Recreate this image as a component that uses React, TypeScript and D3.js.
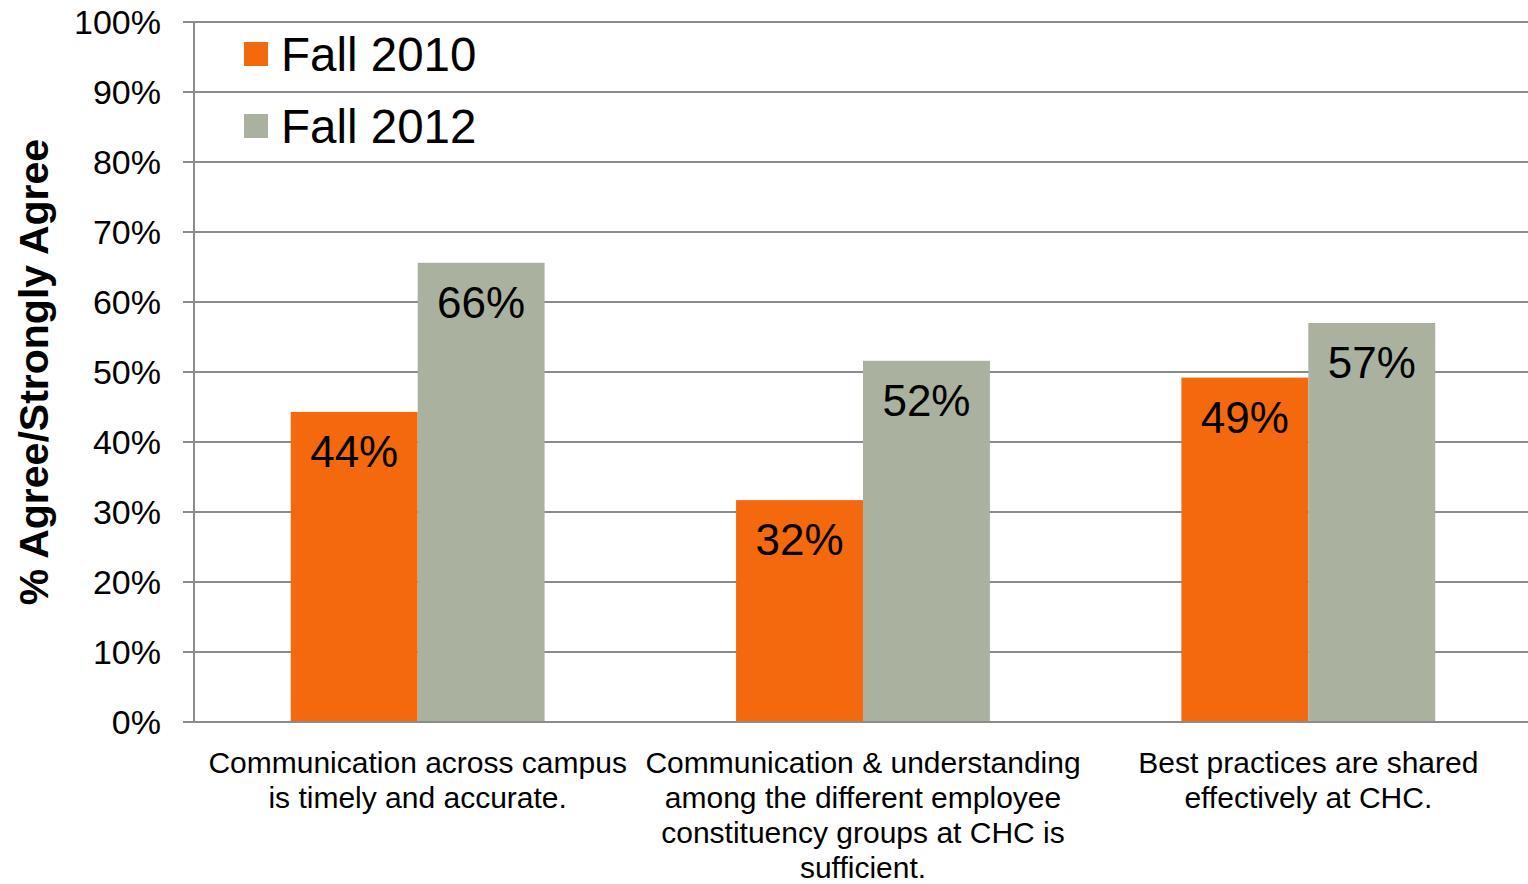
import React from "react";
import * as d3 from "d3";

const categories = [
  "Communication across campus is timely and accurate.",
  "Communication & understanding among the different employee constituency groups at CHC is sufficient.",
  "Best practices are shared effectively at CHC.",
];
const categoryLines = [
  ["Communication across campus", "is timely and accurate."],
  ["Communication & understanding", "among the different employee", "constituency groups at CHC is", "sufficient."],
  ["Best practices are shared", "effectively at CHC."],
];
const seriesNames = ["Fall 2010", "Fall 2012"];
const fall2010 = [0.443, 0.317, 0.492];
const fall2012 = [0.656, 0.516, 0.57];
const dataLabels2010 = ["44%", "32%", "49%"];
const dataLabels2012 = ["66%", "52%", "57%"];
const yTicks = [0, 0.1, 0.2, 0.3, 0.4, 0.5, 0.6, 0.7, 0.8, 0.9, 1.0];
const colors = ["#F4680E", "#AAB19F"];

const W = 1528;
const H = 884;
const left = 194;
const right = 1528;
const top = 22;
const bottom = 722;
const FONT = "'Liberation Sans', Arial, sans-serif";

export default function App() {
  const x0 = d3.scaleBand<number>().domain(d3.range(categories.length)).range([left + 1, right + 3]).paddingInner(0.43).paddingOuter(0.215);
  const x1 = d3.scaleBand<number>().domain(d3.range(seriesNames.length)).range([0, x0.bandwidth()]).padding(0);
  const y = d3.scaleLinear().domain([0, 1]).range([bottom, top]);
  const series = [fall2010, fall2012];
  const labels = [dataLabels2010, dataLabels2012];
  const fmt = d3.format(".0%");
  const gridColor = "#8C8C8C";

  return (
    <svg width={W} height={H} style={{ position: "absolute", left: 0, top: 0, background: "#fff" }} fontFamily={FONT}>
      {yTicks.map((t) => (
        <g key={t}>
          <line x1={183} x2={right} y1={y(t)} y2={y(t)} stroke={gridColor} strokeWidth={2} />
          <text x={161} y={y(t) + 12} textAnchor="end" fontSize={34} fill="#000">
            {fmt(t)}
          </text>
        </g>
      ))}
      <line x1={left} x2={left} y1={top} y2={bottom} stroke={gridColor} strokeWidth={2} />
      {categories.map((c, i) => (
        <g key={c}>
          {series.map((s, j) => {
            const bx = (x0(i) as number) + (x1(j) as number);
            const bw = x1.bandwidth();
            return (
              <g key={j}>
                <rect x={bx} y={y(s[i])} width={bw} height={bottom - y(s[i])} fill={colors[j]} />
                <text x={bx + bw / 2} y={y(s[i]) + 55} textAnchor="middle" fontSize={44} fill="#000">
                  {labels[j][i]}
                </text>
              </g>
            );
          })}
        </g>
      ))}
      <line x1={183} x2={right} y1={bottom} y2={bottom} stroke={gridColor} strokeWidth={2} />
      {categories.map((c, i) => {
        const cx = (x0(i) as number) + x0.bandwidth() / 2;
        return (
          <text key={c} textAnchor="middle" fontSize={30} fill="#000">
            {categoryLines[i].map((ln, k) => (
              <tspan key={k} x={cx} y={773 + k * 35}>
                {ln}
              </tspan>
            ))}
          </text>
        );
      })}
      <text
        transform={`translate(48, 372) rotate(-90)`}
        textAnchor="middle"
        fontSize={41}
        fontWeight="bold"
        fill="#000"
      >
        % Agree/Strongly Agree
      </text>
      {seriesNames.map((n, j) => (
        <g key={n}>
          <rect x={244} y={42 + j * 72} width={24} height={24} fill={colors[j]} />
          <text x={281} y={71 + j * 72} fontSize={47.5} fill="#000">
            {n}
          </text>
        </g>
      ))}
    </svg>
  );
}
